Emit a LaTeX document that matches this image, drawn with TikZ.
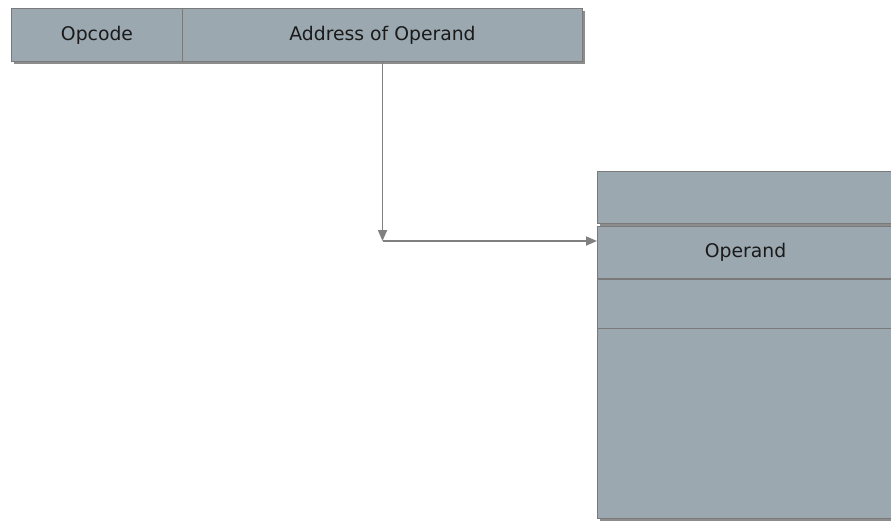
\documentclass[tikz,border=0pt]{standalone}
\usepackage{fontspec}
\setmainfont{DejaVu Sans}
\usetikzlibrary{shadows,arrows.meta}
\definecolor{cellfill}{RGB}{155,168,176}
\definecolor{cellline}{RGB}{122,122,122}
\definecolor{wire}{RGB}{128,128,128}
\definecolor{ink}{RGB}{26,26,26}
\begin{document}
\begin{tikzpicture}[x=1pt,y=-1pt,
  cell/.style={draw=cellline, line width=1pt, fill=cellfill, inner sep=0pt,
    text=ink, font=\fontsize{18.8}{22}\selectfont, anchor=north west,
    drop shadow={shadow xshift=2.5pt, shadow yshift=-2.5pt, opacity=0.6, fill=black!75}},
  wirearrow/.style={draw=wire, line width=1.8pt,
    -{Triangle[length=11pt,width=9pt]}}]
  \useasboundingbox (0,0) rectangle (891,523);
  \begin{scope}
    \clip (0,0) rectangle (891,523);
    % instruction word
    \node[cell, minimum width=171pt, minimum height=53pt] (opc) at (11,8) {Opcode};
    \node[cell, minimum width=400pt, minimum height=53pt] (addr) at (182,8) {Address of Operand};
    % memory column, drawn top to bottom
    \node[cell, minimum width=296pt, minimum height=52pt] (m1) at (597,171) {};
    \node[cell, minimum width=296pt, minimum height=52pt] (m2) at (597,226) {Operand};
    \node[cell, minimum width=296pt, minimum height=49pt] (m3) at (597,279) {};
    \node[cell, minimum width=296pt, minimum height=190pt] (m4) at (597,328) {};
  \end{scope}
  % address resolves to the operand cell
  \coordinate (bend) at (addr.south |- 0,241);
  \coordinate (hit) at (m2.west |- bend);
  \draw[wirearrow] (addr.south) -- (bend);
  \draw[wirearrow] (bend) -- (hit);
\end{tikzpicture}
\end{document}
